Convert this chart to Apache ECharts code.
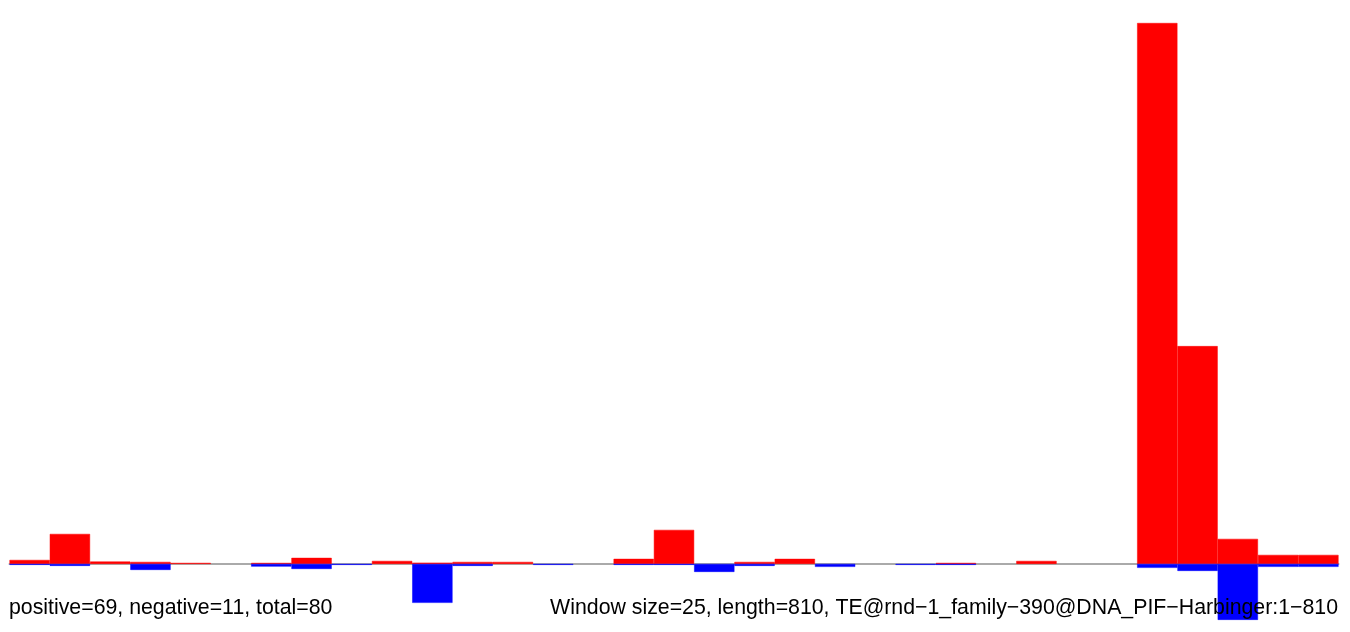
<!DOCTYPE html>
<html>
<head>
<meta charset="utf-8">
<script src="https://cdn.jsdelivr.net/npm/echarts@6/dist/echarts.min.js"></script>
<style>
html,body{margin:0;padding:0;background:#fff;}
#chart{width:1350px;height:632px;}
</style>
</head>
<body>
<div id="chart"></div>
<script>
// windows of 25 bp along an 810 bp element
const windowSize = 25;
const seqLength = 810;
const windows = [];
for (let s = 1; s <= seqLength; s += windowSize) {
  windows.push(s + '-' + Math.min(s + windowSize - 1, seqLength));
}
// positive strand signal per window (red)
const positiveValues = [0.44, 3.33, 0.26, 0.22, 0.11, 0, 0.11, 0.67, 0, 0.33, 0.14, 0.22, 0.22, 0, 0, 0.56, 3.78, 0, 0.22, 0.56, 0, 0, 0, 0.11, 0, 0.33, 0, 0, 60.1, 24.2, 2.78, 1.0, 1.0];
// negative strand signal per window (blue)
const negativeValues = [-0.11, -0.22, 0, -0.67, 0, 0, -0.3, -0.56, -0.11, 0, -4.33, -0.22, 0, -0.11, 0, -0.11, -0.11, -0.89, -0.22, 0, -0.33, 0, -0.11, -0.11, 0, 0, 0, 0, -0.44, -0.78, -6.22, -0.33, -0.33];
const leftNote = 'positive=69, negative=11, total=80';
const rightNote = 'Window size=25, length=810, TE@rnd\u22121_family\u2212390@DNA_PIF\u2212Harbinger:1\u2212810';

// empty windows draw nothing
const blankZero = arr => arr.map(v => (v === 0 ? '-' : v));

const chart = echarts.init(document.getElementById('chart'));
chart.setOption({
  animation: false,
  backgroundColor: '#ffffff',
  grid: { left: 9.5, right: 11.5, top: 23, bottom: 0.6, containLabel: false },
  xAxis: {
    type: 'category',
    data: windows,
    axisLine: { show: true, onZero: true, lineStyle: { color: '#aaaaaa', width: 2 } },
    axisTick: { show: false },
    axisLabel: { show: false },
    splitLine: { show: false }
  },
  yAxis: {
    type: 'value',
    min: -7.5,
    max: 60.1,
    show: false,
    splitLine: { show: false }
  },
  series: [
    {
      type: 'bar', name: 'positive', stack: 'reads', data: blankZero(positiveValues),
      barCategoryGap: '0%', itemStyle: { color: '#ff0000', borderColor: '#ff0000', borderWidth: 0.5 }
    },
    {
      type: 'bar', name: 'negative', stack: 'reads', data: blankZero(negativeValues),
      barCategoryGap: '0%', itemStyle: { color: '#0000ff', borderColor: '#0000ff', borderWidth: 0.5 }
    }
  ],
  graphic: [
    { type: 'text', left: 9, top: 598, z: 100,
      style: { text: leftNote, font: '21.3px "Liberation Sans", Arial, sans-serif', fill: '#000' } },
    { type: 'text', right: 12, top: 598, z: 100,
      style: { text: rightNote, font: '21.3px "Liberation Sans", Arial, sans-serif', fill: '#000' } }
  ]
});
</script>
</body>
</html>
